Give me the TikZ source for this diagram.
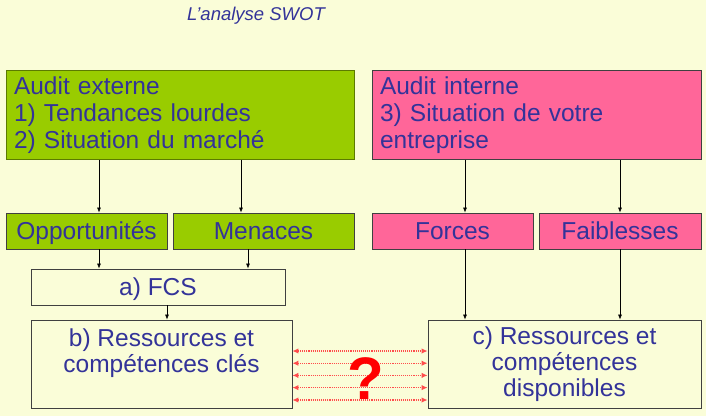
\documentclass[tikz,border=0pt]{standalone}
\usepackage{fontspec}
\setmainfont{Liberation Sans}
\usetikzlibrary{arrows.meta,calc}
\definecolor{bgc}{HTML}{FAFDD8}
\definecolor{grn}{HTML}{99CC00}
\definecolor{pnk}{HTML}{FF6699}
\definecolor{txt}{HTML}{333399}
\definecolor{brd}{HTML}{404040}
\begin{document}
\begin{tikzpicture}[x=1pt,y=-1pt,
  box/.style={draw=brd,line width=0.9pt,inner sep=0pt,text=txt,
    font=\fontsize{24.5}{27}\selectfont},
  onebox/.style={box,text height=17.5pt,text depth=0pt,minimum height=36pt},
  bigbox/.style={box,align=left,text width=#1-16pt,inner xsep=8pt},
  arr/.style={draw=black,line width=0.6pt,-{Latex[length=5pt,width=4pt]}},
  redarr/.style={draw=red!70,line width=1.1pt,densely dotted,
    {Latex[length=6pt,width=5.5pt]}-{Latex[length=6pt,width=5.5pt]}}]
\fill[bgc] (0,0) rectangle (706,416);
\useasboundingbox (0,0) rectangle (706,416);
\node[text=txt,font=\fontsize{18.5}{22}\selectfont\itshape] (title) at (256,16) {L’analyse SWOT};
% top boxes
\node[bigbox=348pt,fill=grn,draw=grn!60!black,minimum width=348pt,minimum height=89pt] (ext) at (180,115)
  {Audit externe\\1) Tendances lourdes\\2) Situation du marché};
\node[bigbox=329pt,fill=pnk,minimum width=329pt,minimum height=89pt] (int) at (536.5,115)
  {Audit interne\\3) Situation de votre\\entreprise};
% second row
\node[onebox,fill=grn,minimum width=161pt] (opp) at (86.5,231) {Opportunités};
\node[onebox,fill=grn,minimum width=181pt] (men) at (263.5,231) {Menaces};
\node[onebox,fill=pnk,minimum width=161pt] (for) at (452.5,231) {Forces};
\node[onebox,fill=pnk,minimum width=162pt] (fai) at (620,231) {Faiblesses};
% lower boxes
\node[onebox,fill=bgc,minimum width=254pt] (fcs) at (158,287) {a) FCS};
\node[box,fill=bgc,minimum width=261pt,minimum height=88pt] (rb) at (161.5,364) {};
\node[text=txt,font=\fontsize{24.5}{26}\selectfont,align=center,anchor=north,inner sep=0pt] (rbt) at ($(rb.north)+(0,9)$)
  {b) Ressources et\\compétences clés};
\node[box,fill=bgc,minimum width=273pt,minimum height=88pt,align=center,
  font=\fontsize{24.5}{26}\selectfont] (rc) at (564.5,364)
  {c) Ressources et\\compétences\\disponibles};
% x positions of connectors
\coordinate (xa) at (99,0);
\coordinate (xb) at (241,0);
\coordinate (xc) at (248,0);
\coordinate (xd) at (465,0);
\coordinate (xe) at (620,0);
\coordinate (xf) at (167,0);
\draw[arr] (ext.south -| xa) -- (opp.north -| xa);
\draw[arr] (ext.south -| xb) -- (men.north -| xb);
\draw[arr] (int.south -| xd) -- (for.north -| xd);
\draw[arr] (int.south -| xe) -- (fai.north -| xe);
\draw[arr] (opp.south -| xa) -- (fcs.north -| xa);
\draw[arr] (men.south -| xc) -- (fcs.north -| xc);
\draw[arr] (fcs.south -| xf) -- (rb.north -| xf);
\draw[arr] (for.south -| xd) -- (rc.north -| xd);
\draw[arr] (fai.south -| xe) -- (rc.north -| xe);
% red double arrows
\foreach \y [count=\i] in {351,363.2,375.4,387.6,400} {
  \coordinate (ry\i) at (0,\y);
  \draw[redarr] (rb.east |- ry\i) -- (rc.west |- ry\i);
}
\node[text=red,font=\fontsize{60}{62}\selectfont\bfseries] (qm) at (366,379) {?};
\end{tikzpicture}
\end{document}
